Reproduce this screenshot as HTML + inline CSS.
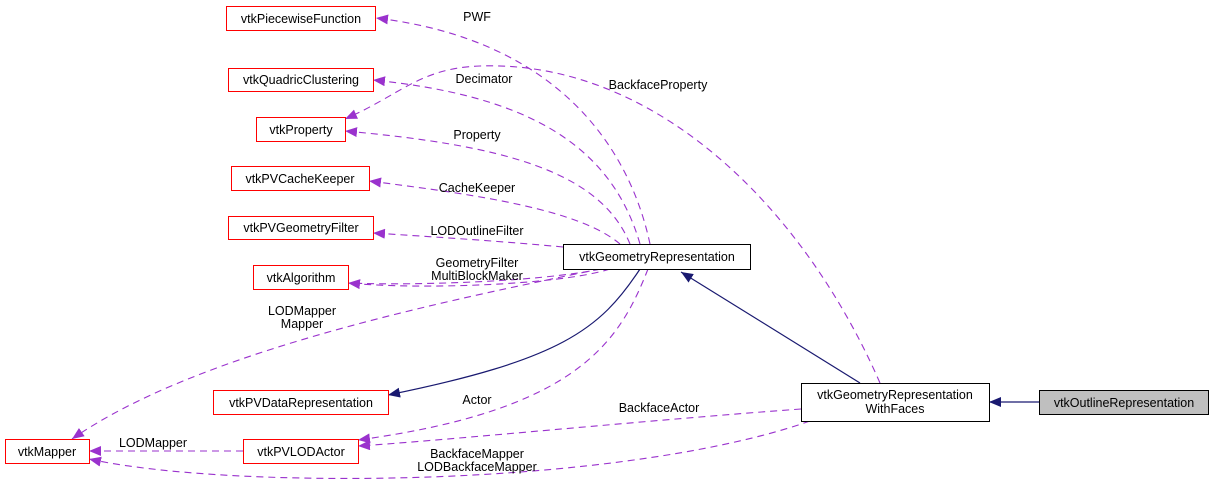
<!DOCTYPE html>
<html><head><meta charset="utf-8"><style>
html,body{margin:0;padding:0;background:#fff}
svg text{font-family:"Liberation Sans",Helvetica,sans-serif;font-size:12.5px;fill:#000}
</style></head><body>
<svg width="1213" height="491" viewBox="0 0 1213 491" xmlns="http://www.w3.org/2000/svg">
<defs>
<marker id="p" viewBox="0 0 12 10" refX="12" refY="5" markerWidth="12" markerHeight="10" markerUnits="userSpaceOnUse" orient="auto"><path d="M0,0 L12,5 L0,10 z" fill="#9a32cd"/></marker>
<marker id="b" viewBox="0 0 12 10" refX="12" refY="5" markerWidth="12" markerHeight="10" markerUnits="userSpaceOnUse" orient="auto"><path d="M0,0 L12,5 L0,10 z" fill="#191970"/></marker>
</defs>
<g fill="none" stroke="#9a32cd" stroke-width="1.1" stroke-dasharray="7,5">
<path d="M650,244 C630,150 560,40 376,18" marker-end="url(#p)"/>
<path d="M640,244 C610,140 520,95 373,80" marker-end="url(#p)"/>
<path d="M880,383 C800,200 650,60 480,66 C420,68 400,95 345,119" marker-end="url(#p)"/>
<path d="M630,244 C600,170 500,145 345,131" marker-end="url(#p)"/>
<path d="M620,244 C580,210 480,195 369,181" marker-end="url(#p)"/>
<path d="M563,247 C500,241 420,236 373,233" marker-end="url(#p)"/>
<path d="M610,269 C560,285 420,290 348,283" marker-end="url(#p)"/>
<path d="M613,266 C560,281 420,286 348,283"/>
<path d="M600,269 C450,300 200,350 72,439" marker-end="url(#p)"/>
<path d="M648,269 C620,340 580,410 358,440" marker-end="url(#p)"/>
<path d="M801,409 C650,420 450,440 358,446" marker-end="url(#p)"/>
<path d="M243,451 L89,451" marker-end="url(#p)"/>
<path d="M810,421 C700,460 500,482 300,478 C200,476 130,468 89,459" marker-end="url(#p)"/>
</g>
<g fill="none" stroke="#191970" stroke-width="1.2">
<path d="M640,269 C600,330 560,360 388,395" marker-end="url(#b)"/>
<path d="M860,383 L681,272" marker-end="url(#b)"/>
<path d="M1039,402 L989,402" marker-end="url(#b)"/>
</g>
<g stroke="#ff0000" stroke-width="1" fill="#fff">
<rect x="226.5" y="6.5" width="149" height="24"/>
<rect x="228.5" y="68.5" width="145" height="23"/>
<rect x="256.5" y="117.5" width="89" height="24"/>
<rect x="231.5" y="166.5" width="138" height="24"/>
<rect x="228.5" y="216.5" width="145" height="23"/>
<rect x="253.5" y="265.5" width="95" height="24"/>
<rect x="213.5" y="390.5" width="175" height="24"/>
<rect x="5.5" y="439.5" width="84" height="24"/>
<rect x="243.5" y="439.5" width="115" height="24"/>
</g>
<rect x="563.5" y="244.5" width="187" height="25" fill="#fff" stroke="#000"/>
<rect x="801.5" y="383.5" width="188" height="38" fill="#fff" stroke="#000"/>
<rect x="1039.5" y="390.5" width="169" height="24" fill="#bfbfbf" stroke="#000"/>
<g text-anchor="middle">
<text x="301" y="23">vtkPiecewiseFunction</text>
<text x="301" y="84">vtkQuadricClustering</text>
<text x="301" y="134">vtkProperty</text>
<text x="300" y="183">vtkPVCacheKeeper</text>
<text x="301" y="232">vtkPVGeometryFilter</text>
<text x="301" y="282">vtkAlgorithm</text>
<text x="301" y="407">vtkPVDataRepresentation</text>
<text x="47" y="456">vtkMapper</text>
<text x="301" y="456">vtkPVLODActor</text>
<text x="657" y="261">vtkGeometryRepresentation</text>
<text x="895" y="399">vtkGeometryRepresentation</text>
<text x="895" y="413">WithFaces</text>
<text x="1124" y="407">vtkOutlineRepresentation</text>
<text x="477" y="21">PWF</text>
<text x="484" y="83">Decimator</text>
<text x="658" y="89">BackfaceProperty</text>
<text x="477" y="139">Property</text>
<text x="477" y="192">CacheKeeper</text>
<text x="477" y="235">LODOutlineFilter</text>
<text x="477" y="267">GeometryFilter</text>
<text x="477" y="280">MultiBlockMaker</text>
<text x="302" y="315">LODMapper</text>
<text x="302" y="328">Mapper</text>
<text x="477" y="404">Actor</text>
<text x="659" y="412">BackfaceActor</text>
<text x="153" y="447">LODMapper</text>
<text x="477" y="458">BackfaceMapper</text>
<text x="477" y="471">LODBackfaceMapper</text>
</g>
</svg>
</body></html>
